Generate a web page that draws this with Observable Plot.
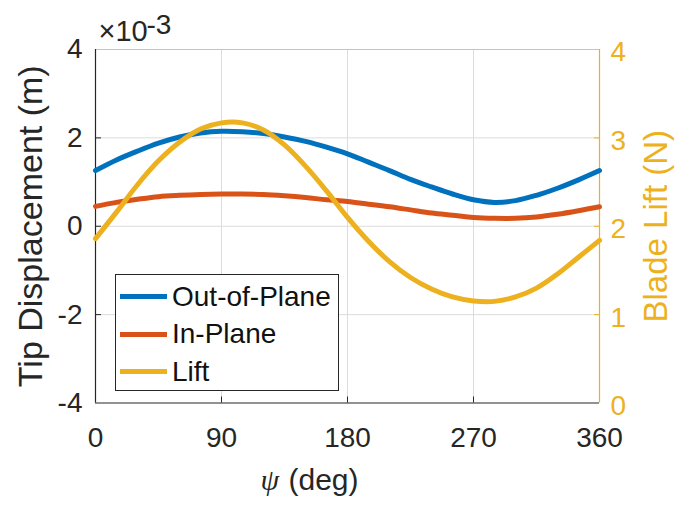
<!DOCTYPE html>
<html>
<head>
<meta charset="utf-8">
<script src="https://cdn.jsdelivr.net/npm/d3@7"></script>
<script src="https://cdn.jsdelivr.net/npm/@observablehq/plot@0.6"></script>
<style>
  html, body { margin: 0; padding: 0; background: #fff; }
  #wrap { position: relative; width: 676px; height: 506px; font-family: "Liberation Sans", Arial, sans-serif; }
  .legend { position: absolute; left: 115px; top: 274px; width: 224px; height: 117px; border: 1.3px solid #262626; background: #fff; box-sizing: border-box; }
  .row { position: absolute; left: 0; width: 100%; height: 36px; }
  .swatch { position: absolute; left: 4px; top: 15.5px; width: 47px; height: 5px; }
  .lab { position: absolute; left: 56px; top: 0; line-height: 36px; font-size: 28px; color: #111; white-space: nowrap; }
</style>
</head>
<body>
<div id="wrap"></div>
<script>
// ---- data ----
const psi        = [0, 15, 30, 45, 60, 75, 90, 105, 120, 135, 150, 165, 180, 195, 210, 225, 240, 255, 270, 285, 300, 315, 330, 345, 360];
// tip displacement, x10^-3 m
const outOfPlane = [1.26, 1.50, 1.70, 1.88, 2.02, 2.11, 2.15, 2.14, 2.10, 2.02, 1.92, 1.79, 1.64, 1.45, 1.26, 1.06, 0.89, 0.73, 0.60, 0.54, 0.58, 0.70, 0.86, 1.05, 1.26];
const inPlane    = [0.45, 0.54, 0.61, 0.67, 0.70, 0.72, 0.73, 0.73, 0.72, 0.69, 0.65, 0.60, 0.56, 0.50, 0.44, 0.37, 0.30, 0.25, 0.20, 0.18, 0.18, 0.21, 0.27, 0.35, 0.44];
// blade lift, N (right axis)
const lift       = [1.86, 2.16, 2.47, 2.74, 2.95, 3.10, 3.17, 3.17, 3.09, 2.92, 2.68, 2.40, 2.10, 1.83, 1.60, 1.42, 1.29, 1.20, 1.155, 1.15, 1.20, 1.30, 1.46, 1.65, 1.84];

const seriesNames = ["Out-of-Plane", "In-Plane", "Lift"];
const xTicks    = [0, 90, 180, 270, 360];
const yTicks    = [-4, -2, 0, 2, 4];
const liftTicks = [0, 1, 2, 3, 4];
const xDomain   = [0, 360];
const yDomain   = [-4, 4];
const liftDomain = [0, 4];
const xLabelSym = "ψ";
const xLabelTxt = "(deg)";
const yLabel    = "Tip Displacement (m)";
const y2Label   = "Blade Lift (N)";
const expBase   = "×10";
const expPow    = "-3";

// ---- styles ----
const colors = ["#0072BD", "#D95319", "#EDB120"];
const ink = "#262626";
const yellow = colors[2];

// map lift (N) onto the left axis scale
const liftToY = v => yDomain[0] + (v - liftDomain[0]) * (yDomain[1] - yDomain[0]) / (liftDomain[1] - liftDomain[0]);
const yToLift = y => liftDomain[0] + (y - yDomain[0]) * (liftDomain[1] - liftDomain[0]) / (yDomain[1] - yDomain[0]);

const rows = psi.map((p, i) => ({psi: p, out: outOfPlane[i], inp: inPlane[i], lift: liftToY(lift[i])}));

const chart = Plot.plot({
  width: 676,
  height: 506,
  marginTop: 49,
  marginBottom: 103.5,
  marginLeft: 95,
  marginRight: 77,
  x: {domain: xDomain, axis: null},
  y: {domain: yDomain, axis: null},
  style: {fontFamily: '"Liberation Sans", Arial, sans-serif', fontSize: "28px", background: "#fff", color: ink, overflow: "visible"},
  marks: [
    Plot.gridX(xTicks.slice(1, -1), {stroke: "#dcdcdc", strokeOpacity: 1, strokeWidth: 1}),
    Plot.gridY(yTicks.slice(1, -1), {stroke: "#dcdcdc", strokeOpacity: 1, strokeWidth: 1}),
    Plot.ruleY([yDomain[1]], {stroke: "#c4c4c4", strokeWidth: 1}),
    Plot.ruleY([yDomain[0]], {stroke: ink, strokeWidth: 1.2}),
    Plot.ruleX([xDomain[0]], {stroke: ink, strokeWidth: 1.2}),
    Plot.ruleX([xDomain[1]], {stroke: yellow, strokeWidth: 1.2}),
    // inward ticks
    Plot.axisX(xTicks.slice(1, -1), {anchor: "bottom", tickSize: -6, tickFormat: () => "", stroke: ink, label: null}),
    Plot.axisY(yTicks.slice(1, -1), {anchor: "left", tickSize: -6, tickFormat: () => "", stroke: ink, label: null}),
    Plot.axisY(liftTicks.slice(1, -1).map(liftToY), {anchor: "right", tickSize: -6, tickFormat: () => "", stroke: yellow, label: null}),
    // tick labels
    Plot.axisX(xTicks, {anchor: "bottom", tickSize: 0, tickPadding: 24, fontSize: 28, fill: ink, tickFormat: d => String(d), label: null}),
    Plot.axisY(yTicks, {anchor: "left", tickSize: 0, tickPadding: 13, fontSize: 28, fill: ink, tickFormat: d => String(d), label: null}),
    Plot.axisY(liftTicks.map(liftToY), {anchor: "right", tickSize: 0, tickPadding: 11, dy: 3, fontSize: 28, fill: yellow, tickFormat: d => String(yToLift(d)), label: null}),
    // series
    Plot.line(rows, {x: "psi", y: "out", stroke: colors[0], strokeWidth: 5, curve: "catmull-rom"}),
    Plot.line(rows, {x: "psi", y: "inp", stroke: colors[1], strokeWidth: 5, curve: "catmull-rom"}),
    Plot.line(rows, {x: "psi", y: "lift", stroke: colors[2], strokeWidth: 5, curve: "catmull-rom"}),
    // labels
    Plot.text([expBase], {text: d => d, frameAnchor: "top-left", dx: 3, dy: -9, textAnchor: "start", lineAnchor: "bottom", fontSize: 29, fill: ink}),
    Plot.text([expPow], {text: d => d, frameAnchor: "top-left", dx: 51, dy: -16, textAnchor: "start", lineAnchor: "bottom", fontSize: 28, fill: ink}),
    Plot.text([yLabel], {text: d => d, frameAnchor: "left", dx: -64, rotate: -90, textAnchor: "middle", lineAnchor: "middle", fontSize: 34, fill: ink}),
    Plot.text([y2Label], {text: d => d, frameAnchor: "right", dx: 57, rotate: -90, textAnchor: "middle", lineAnchor: "middle", fontSize: 33, fill: yellow}),
    Plot.text([xLabelSym], {text: d => d, frameAnchor: "bottom-left", dx: 165, dy: 86.5, textAnchor: "start", lineAnchor: "bottom", fontSize: 30, fontStyle: "italic", fontFamily: '"Liberation Serif", serif', fill: ink}),
    Plot.text([xLabelTxt], {text: d => d, frameAnchor: "bottom-left", dx: 193, dy: 86.5, textAnchor: "start", lineAnchor: "bottom", fontSize: 30, fill: ink})
  ]
});

const wrap = document.getElementById("wrap");
wrap.appendChild(chart);

// legend (inside the axes, like the original)
const legend = document.createElement("div");
legend.className = "legend";
const rowTops = [3.7, 41, 78.7];
seriesNames.forEach((name, i) => {
  const r = document.createElement("div");
  r.className = "row";
  r.style.top = rowTops[i] + "px";
  const sw = document.createElement("div");
  sw.className = "swatch";
  sw.style.background = colors[i];
  const lb = document.createElement("div");
  lb.className = "lab";
  lb.textContent = name;
  r.appendChild(sw);
  r.appendChild(lb);
  legend.appendChild(r);
});
wrap.appendChild(legend);
</script>
</body>
</html>
